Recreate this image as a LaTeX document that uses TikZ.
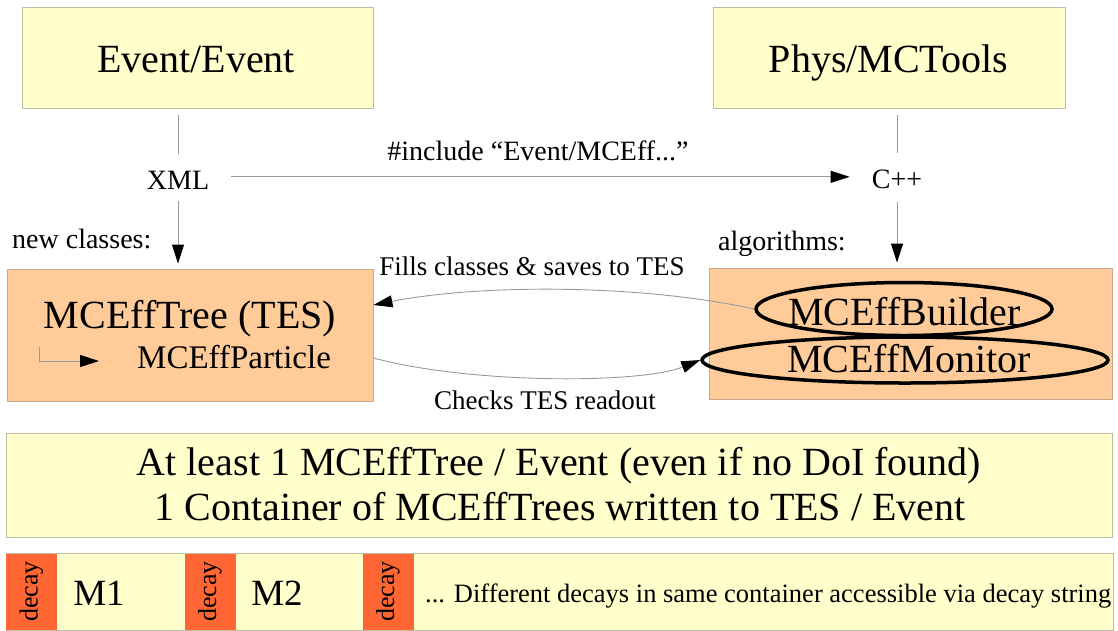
\documentclass[tikz,border=0pt]{standalone}
\usepackage{fontspec}
\setmainfont{Liberation Serif}
\usetikzlibrary{arrows.meta,shapes.geometric}
\definecolor{paleyellow}{HTML}{FFFFCC}
\definecolor{yellowedge}{HTML}{BDBDA6}
\definecolor{peach}{HTML}{FFCC99}
\definecolor{peachedge}{HTML}{C9A98A}
\definecolor{decayred}{HTML}{FF6633}
\definecolor{wiregray}{HTML}{999999}
\newcommand{\setfs}[1]{\fontsize{#1}{#1}\selectfont}
\begin{document}
\begin{tikzpicture}[x=1pt,y=-1pt,
  panel/.style={draw=yellowedge, fill=paleyellow, line width=0.9pt, inner sep=0pt},
  tray/.style={draw=peachedge, fill=peach, line width=0.9pt, inner sep=0pt},
  tag/.style={fill=decayred, inner sep=0pt, minimum width=51pt, minimum height=76pt},
  big/.style={font=\setfs{40}, inner sep=0pt, anchor=base},
  small/.style={font=\setfs{28}, inner sep=0pt, anchor=base},
  note/.style={font=\setfs{27}, inner sep=0pt, anchor=base},
  wire/.style={draw=wiregray, line width=0.9pt},
  tip/.style={-{Triangle[length=19pt,width=12pt,color=black]}},
  ring/.style={ellipse, draw=black, line width=3.5pt, inner sep=0pt}
]
\useasboundingbox (0,0) rectangle (1118,630);

% packages
\node[panel, minimum width=351pt, minimum height=101pt] (ev) at (197.5,57.5) {};
\node[big] (evlabel) at (196,72) {Event/Event};
\node[panel, minimum width=352pt, minimum height=101pt] (phys) at (889,57.5) {};
\node[big] (physlabel) at (888.5,72) {Phys/MCTools};

% languages and the include link
\node[small] (xml) at (178,189) {XML};
\node[small] (cpp) at (897,188) {C++};
\node[small] (inc) at (538,160) {\#include “Event/MCEff...”};
\node[small, anchor=base west] (newcls) at (12,248) {new classes:};
\node[small, anchor=base west] (algos) at (718,250) {algorithms:};

% class and algorithm boxes
\node[tray, minimum width=366pt, minimum height=132pt] (tree) at (190,335) {};
\node[big] (treelabel) at (190,328) {MCEffTree (TES)};
\node[font=\setfs{33}, inner sep=0pt, anchor=base west] (part) at (137,368) {MCEffParticle};
\coordinate (elbtop) at (39,347);
\coordinate (elbend) at (99,361);
\draw[wire, tip] (elbtop) |- (elbend);

\node[tray, minimum width=403pt, minimum height=131pt] (algs) at (910.5,333.5) {};
\node[ring, minimum width=296pt, minimum height=53pt] (bld) at (904,309) {};
\node[ring, minimum width=406pt, minimum height=46pt] (mon) at (905,360) {};
\node[big] (bldlabel) at (904.5,325) {MCEffBuilder};
\node[big] (monlabel) at (909,372) {MCEffMonitor};

% connectors
\draw[wire, shorten <=7pt, shorten >=16pt] (ev.south -| xml) -- (xml.north);
\draw[wire, tip, shorten <=12pt, shorten >=5pt] (xml.south) -- (tree.north -| xml);
\draw[wire, shorten <=7pt, shorten >=16pt] (phys.south -| cpp) -- (cpp.north);
\draw[wire, tip, shorten <=14pt, shorten >=5pt] (cpp.south) -- (algs.north -| cpp);
\draw[wire, tip, shorten <=22pt, shorten >=22pt] ([yshift=3pt]xml.east) -- ([yshift=3pt]xml.east -| cpp.west);

\draw[wire, tip] (bld.west) .. controls (640,284) and (480,284) .. ([yshift=30pt]tree.east);
\node[note] (fills) at (532,275) {Fills classes \& saves to TES};
\draw[wire, tip] ([yshift=-23pt]tree.east) .. controls (470,384) and (640,384) .. (mon.west);
\node[note] (checks) at (545,409) {Checks TES readout};

% summary
\node[panel, minimum width=1106pt, minimum height=104pt] (sum) at (559.5,485) {};
\node[big] (sum1) at (559,475) {At least 1 MCEffTree / Event (even if no DoI found)};
\node[big] (sum2) at (560,520) {1 Container of MCEffTrees written to TES / Event};

% container strip
\node[panel, minimum width=1107pt, minimum height=77pt] (strip) at (559.5,591.5) {};
\node[tag] (t1) at (31.5,591.5) {};
\node[tag] (t2) at (210,591.5) {};
\node[tag] (t3) at (388,591.5) {};
\foreach \t in {t1,t2,t3}
  \node[font=\setfs{26}, rotate=90, inner sep=0pt] at (\t) {decay};
\node[font=\setfs{37}, anchor=base, inner sep=0pt] (m1) at (99,605) {M1};
\node[font=\setfs{37}, anchor=base, inner sep=0pt] (m2) at (277,605) {M2};
\node[font=\setfs{26.5}, anchor=base west, inner sep=0pt] (diff) at (425,602) {... Different decays in same container accessible via decay string};
\end{tikzpicture}
\end{document}
